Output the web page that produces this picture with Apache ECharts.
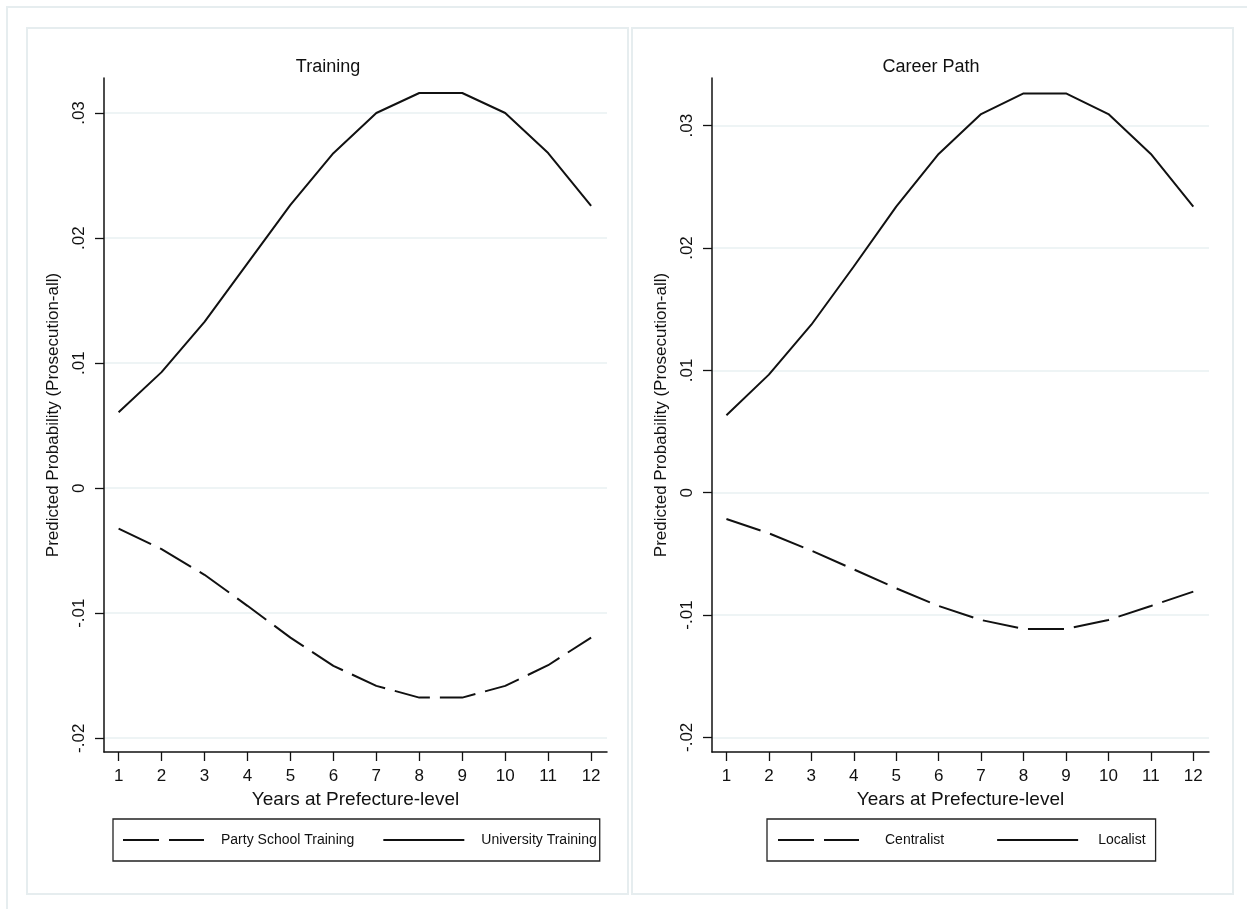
<!DOCTYPE html>
<html>
<head>
<meta charset="utf-8">
<script src="https://cdn.jsdelivr.net/npm/echarts@6/dist/echarts.min.js"></script>
<style>
  html, body { margin: 0; padding: 0; background: #fff; }
  #chart { width: 1247px; height: 909px; }
</style>
</head>
<body>
<div id="chart"></div>
<script>
// Years at prefecture level
const years = [1, 2, 3, 4, 5, 6, 7, 8, 9, 10, 11, 12];
const yTicks = [-0.02, -0.01, 0, 0.01, 0.02, 0.03];

// Panel 1: Training
const partySchool = [-0.00323, -0.00488, -0.00693, -0.00941, -0.01195, -0.01421, -0.01581, -0.01675, -0.01675, -0.01581, -0.01416, -0.01195];
const university  = [0.00607, 0.00928, 0.01329, 0.01797, 0.02265, 0.02679, 0.03000, 0.03160, 0.03160, 0.03000, 0.02680, 0.02257];

// Panel 2: Career Path
const centralist = [-0.00215, -0.00332, -0.00474, -0.00627, -0.00782, -0.00926, -0.01041, -0.01114, -0.01114, -0.01041, -0.00926, -0.00809];
const localist   = [0.00633, 0.00965, 0.01373, 0.01849, 0.02339, 0.02769, 0.03095, 0.03264, 0.03264, 0.03095, 0.02769, 0.02339];

const FONT = '"Liberation Sans", Arial, sans-serif';
const INK = '#111';
const GRID_LINE = '#e9f0f2';
const FRAME = '#e6edef';
const DASH = [36, 10];

const pairs = (ys) => years.map((x, i) => [x, ys[i]]);
const fmtY = (v) => {
  const r = Math.round(v * 100) / 100;
  if (r === 0) return '0';
  return r.toFixed(2).replace('0.', '.');
};

function xAxis(gridIndex) {
  return {
    type: 'value', gridIndex, min: 0.66, max: 12.37,
    name: 'Years at Prefecture-level', nameLocation: 'middle', nameGap: 35,
    nameTextStyle: { fontFamily: FONT, fontSize: 19, color: INK },
    axisLine: { show: true, onZero: false, lineStyle: { color: INK, width: 1.5 } },
    axisTick: { show: true, length: 9, customValues: years, lineStyle: { color: INK, width: 1.3 } },
    axisLabel: { customValues: years, margin: 16, fontFamily: FONT, fontSize: 17, color: INK },
    splitLine: { show: false }
  };
}

function yAxis(gridIndex, min, max) {
  return {
    type: 'value', gridIndex, min, max,
    name: 'Predicted Probability (Prosecution-all)', nameLocation: 'middle', nameGap: 42,
    nameRotate: 90,
    nameTextStyle: { fontFamily: FONT, fontSize: 17, color: INK },
    axisLine: { show: true, onZero: false, lineStyle: { color: INK, width: 1.5 } },
    axisTick: { show: true, length: 9, customValues: yTicks, lineStyle: { color: INK, width: 1.3 } },
    axisLabel: { customValues: yTicks, rotate: 90, margin: 16, fontFamily: FONT, fontSize: 17, color: INK, formatter: fmtY },
    splitLine: { show: true, lineStyle: { color: GRID_LINE, width: 1.5 } }
  };
}

function lineSeries(name, data, axisIndex, dashed) {
  return {
    type: 'line', name, data: pairs(data),
    xAxisIndex: axisIndex, yAxisIndex: axisIndex,
    symbol: 'none', showSymbol: false, silent: true, animation: false,
    itemStyle: { color: INK },
    lineStyle: { color: INK, width: 2, type: dashed ? DASH : 'solid' }
  };
}

// Legend entries: [name, dashed?, gap between key and text]
function legend(items, left, gap, padLeft, padRight) {
  return {
    left, top: 819, orient: 'horizontal',
    data: items.map(([n, dashed, pad]) => ({
      name: n,
      itemStyle: { opacity: 0 },
      lineStyle: { color: INK, width: 2, type: dashed ? DASH : 'solid' },
      textStyle: { padding: [0, 0, 0, pad] }
    })),
    itemWidth: 81, itemHeight: 14, itemGap: gap,
    padding: [14, padRight, 14, padLeft],
    borderColor: '#222', borderWidth: 1.3,
    selectedMode: false,
    textStyle: { fontFamily: FONT, fontSize: 14, color: INK }
  };
}

const chart = echarts.init(document.getElementById('chart'), null, { renderer: 'canvas' });

chart.setOption({
  backgroundColor: '#fff',
  animation: false,
  graphic: [
    { type: 'rect', silent: true, z: -10, shape: { x: 7, y: 7, width: 1260, height: 920 },
      style: { fill: 'none', stroke: FRAME, lineWidth: 2 } },
    { type: 'rect', silent: true, z: -10, shape: { x: 27, y: 28, width: 601, height: 866 },
      style: { fill: 'none', stroke: FRAME, lineWidth: 2 } },
    { type: 'rect', silent: true, z: -10, shape: { x: 632, y: 28, width: 601, height: 866 },
      style: { fill: 'none', stroke: FRAME, lineWidth: 2 } }
  ],
  title: [
    { text: 'Training', left: 323, top: 53, textAlign: 'center',
      textStyle: { fontFamily: FONT, fontSize: 18, fontWeight: 'normal', color: INK } },
    { text: 'Career Path', left: 926, top: 53, textAlign: 'center',
      textStyle: { fontFamily: FONT, fontSize: 18, fontWeight: 'normal', color: INK } }
  ],
  legend: [
    legend([['Party School Training', true, 12], ['University Training', false, 12]], 113, 28, 9, 3),
    legend([['Centralist', true, 21], ['Localist', false, 15]], 767, 52, 10, 10)
  ],
  grid: [
    { left: 104, top: 78, width: 503, height: 674 },
    { left: 712, top: 78, width: 497, height: 674 }
  ],
  xAxis: [xAxis(0), xAxis(1)],
  yAxis: [yAxis(0, -0.0211, 0.0328), yAxis(1, -0.0212, 0.0339)],
  series: [
    lineSeries('Party School Training', partySchool, 0, true),
    lineSeries('University Training', university, 0, false),
    lineSeries('Centralist', centralist, 1, true),
    lineSeries('Localist', localist, 1, false)
  ]
});
</script>
</body>
</html>
